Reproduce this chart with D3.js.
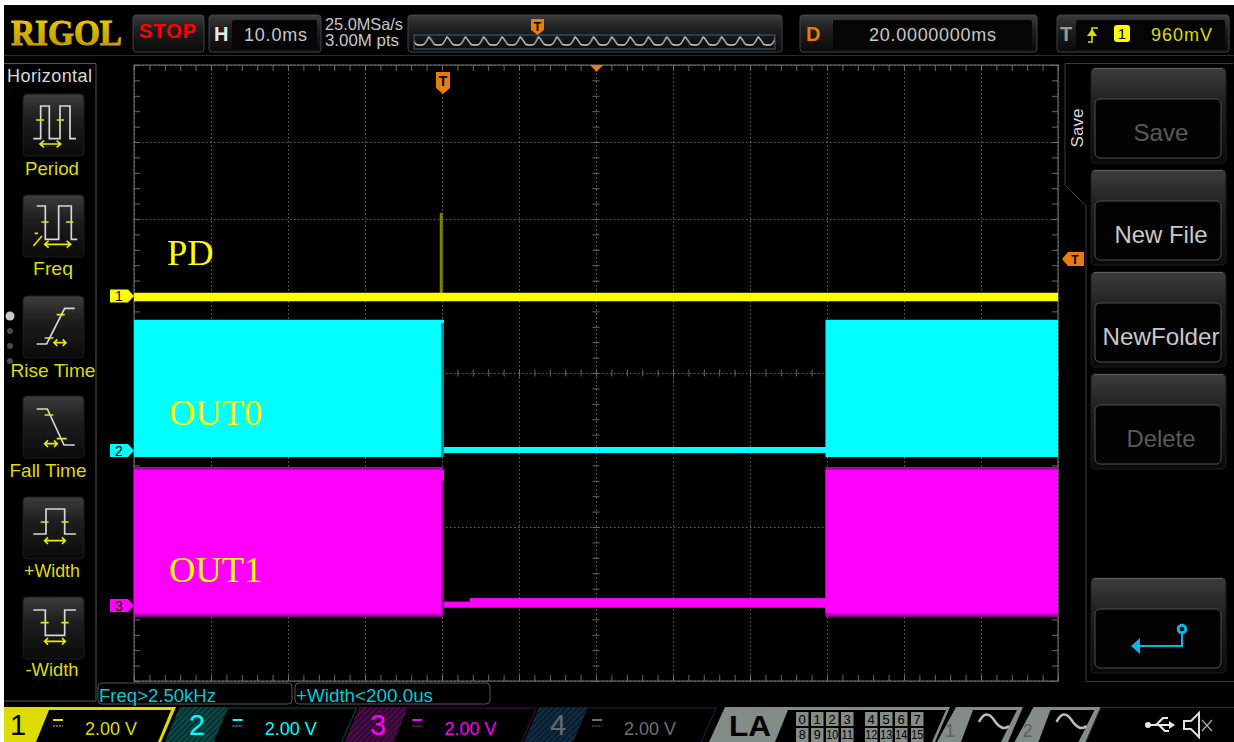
<!DOCTYPE html>
<html>
<head>
<meta charset="utf-8">
<script src="https://cdn.jsdelivr.net/npm/d3@7"></script>
<style>
  html, body { margin: 0; padding: 0; background: #fff; }
  svg { display: block; }
  text { font-family: "Liberation Sans", Arial, sans-serif; }
</style>
</head>
<body>
<div id="scope"></div>
<script>
// trace values. time in ms from the trigger, volts per channel
const gridTimes = [-40, -30, -20, -10, 0, 10, 20, 30, 40, 50, 60, 70, 80];
const gridDivs = [0, 1, 2, 3, 4, 5, 6, 7, 8];

const ch1Time = [-40, 80];
const ch1Volts = [-0.026, -0.026];
const ch1PulseTime = [-0.1, -0.1];
const ch1PulseVolts = [0, 2.16];

const ch2Time = [-40, 0.15, 0.15, 49.8, 49.8, 80];
const ch2High = [3.38, 3.38, 0.08, 0.08, 3.38, 3.38];
const ch2Low = [-0.18, -0.18, -0.08, -0.08, -0.18, -0.18];

const ch3Time = [-40, 0.15, 0.15, 3.6, 3.6, 49.8, 49.8, 80];
const ch3High = [3.48, 3.48, 0.06, 0.06, 0.15, 0.15, 3.48, 3.48];
const ch3Low = [-0.24, -0.24, -0.09, -0.09, -0.09, -0.09, -0.24, -0.24];
const ch3PeakHigh = [3.56, 3.56, 0.06, 0.06, 0.15, 0.15, 3.56, 3.56];
const ch3PeakLow = [-0.33, -0.33, -0.09, -0.09, -0.09, -0.09, -0.33, -0.33];

const menuLabels = ["Period", "Freq", "Rise Time", "Fall Time", "+Width", "-Width"];
const softKeys = ["Save", "New File", "NewFolder", "Delete"];
const scaleLabels = ["2.00 V", "2.00 V", "2.00 V", "2.00 V"];
const laTop = ["0", "1", "2", "3", "4", "5", "6", "7"];
const laBottom = ["8", "9", "10", "11", "12", "13", "14", "15"];

const YEL = "#dcdc00", CYAN = "#00ffff", MAG = "#ff00ff", ORANGE = "#e87c10";

const svg = d3.select("#scope").append("svg").attr("width", 1234).attr("height", 742);
svg.append("rect").attr("x", 4).attr("y", 5).attr("width", 1230).attr("height", 737).attr("fill", "#000");

const defs = svg.append("defs");
const keyGrad = defs.append("linearGradient").attr("id", "key").attr("x2", 0).attr("y2", 1);
keyGrad.append("stop").attr("offset", 0).attr("stop-color", "#3c3c3c");
keyGrad.append("stop").attr("offset", 0.4).attr("stop-color", "#1e1e1e");
keyGrad.append("stop").attr("offset", 1).attr("stop-color", "#0a0a0a");
const logoGrad = defs.append("linearGradient").attr("id", "logo").attr("x2", 0).attr("y2", 1);
logoGrad.append("stop").attr("offset", 0).attr("stop-color", "#f4d000");
logoGrad.append("stop").attr("offset", 1).attr("stop-color", "#b89000");
const wavePat = defs.append("pattern").attr("id", "wave").attr("patternUnits", "userSpaceOnUse")
  .attr("x", 419).attr("y", 35).attr("width", 18.3).attr("height", 14);
wavePat.append("path").attr("d", "M0,10 L3,10 Q6,10 9,3 Q9.2,2 10,2 Q12,4 15,9 Q16,10 18.3,10").attr("fill", "none")
  .attr("stroke", "#d0d0d0").attr("stroke-width", 1.3);
const hatch = (id, c) => {
  const p = defs.append("pattern").attr("id", id).attr("patternUnits", "userSpaceOnUse")
    .attr("width", 4).attr("height", 4).attr("patternTransform", "rotate(45)");
  p.append("rect").attr("width", 4).attr("height", 4).attr("fill", c);
  p.append("rect").attr("width", 1.5).attr("height", 4).attr("fill", "#000").attr("opacity", 0.45);
};
hatch("h2", "#0c4a4a"); hatch("h3", "#4a0c4a"); hatch("h4", "#102c44");

function label(x, y, str, size, color, anchor) {
  return svg.append("text").attr("x", x).attr("y", y).attr("font-size", size)
    .attr("fill", color).attr("text-anchor", anchor || "start").text(str);
}
function box(x, y, w, h, r, fill, stroke) {
  return svg.append("rect").attr("x", x).attr("y", y).attr("width", w).attr("height", h).attr("rx", r)
    .attr("fill", fill).attr("stroke", stroke || "none");
}
function poly(pts, fill, stroke) {
  return svg.append("polygon").attr("points", pts).attr("fill", fill).attr("stroke", stroke || "none");
}
function lineShape(d, stroke, w) {
  return svg.append("path").attr("d", d).attr("fill", "none").attr("stroke", stroke).attr("stroke-width", w || 1);
}

// scales
const x = d3.scaleLinear().domain([-40, 80]).range([134, 1058]);
const div = d3.scaleLinear().domain([0, 8]).range([65, 681]);
const chY = zero => d3.scaleLinear().domain([0, 2]).range([zero, zero - 77]);
const y1 = chY(296), y2 = chY(450), y3 = chY(604);

// graticule
const plot = svg.append("g");
const noText = () => "";
function styleAxis(g, dash) {
  g.select(".domain").remove();
  g.selectAll("line").attr("stroke", "#6a6a6a").attr("stroke-dasharray", dash || null);
  g.selectAll("text").remove();
}
plot.append("g").attr("transform", "translate(0,65)")
  .call(d3.axisBottom(x).tickValues(gridTimes).tickSize(616).tickFormat(noText))
  .call(styleAxis, "1.5,2.5");
plot.append("g").attr("transform", "translate(134,0)")
  .call(d3.axisRight(div).tickValues(gridDivs).tickSize(924).tickFormat(noText))
  .call(styleAxis, "1.5,2.5");

const minorT = d3.range(-40, 80.01, 2), minorD = d3.range(0, 8.01, 0.2);
plot.append("g").attr("transform", "translate(0,65)")
  .call(d3.axisBottom(x).tickValues(minorT).tickSize(6).tickFormat(noText)).call(styleAxis);
plot.append("g").attr("transform", "translate(0,681)")
  .call(d3.axisTop(x).tickValues(minorT).tickSize(6).tickFormat(noText)).call(styleAxis);
plot.append("g").attr("transform", "translate(134,0)")
  .call(d3.axisRight(div).tickValues(minorD).tickSize(6).tickFormat(noText)).call(styleAxis);
plot.append("g").attr("transform", "translate(1058,0)")
  .call(d3.axisLeft(div).tickValues(minorD).tickSize(6).tickFormat(noText)).call(styleAxis);
plot.append("g").attr("transform", "translate(592.5,0)")
  .call(d3.axisRight(div).tickValues(minorD).tickSize(7).tickFormat(noText)).call(styleAxis);
plot.append("g").attr("transform", "translate(0,369.5)")
  .call(d3.axisBottom(x).tickValues(minorT).tickSize(7).tickFormat(noText)).call(styleAxis);
plot.append("rect").attr("x", 134).attr("y", 65).attr("width", 924).attr("height", 616)
  .attr("fill", "none").attr("stroke", "#777");

// traces
function band(times, high, low, yScale, color) {
  const rows = times.map((t, i) => ({ t: t, hi: high[i], lo: low[i] }));
  const area = d3.area().x(d => x(d.t)).y0(d => yScale(d.lo)).y1(d => yScale(d.hi));
  svg.append("path").datum(rows).attr("d", area).attr("fill", color);
}
const traceLine = d3.line().x(d => x(d[0])).y(d => d[1]);

svg.append("path").attr("d", traceLine(ch1PulseTime.map((t, i) => [t, y1(ch1PulseVolts[i])])))
  .attr("stroke", "#808000").attr("stroke-width", 3).attr("fill", "none");
svg.append("path").attr("d", traceLine(ch1Time.map((t, i) => [t, y1(ch1Volts[i])])))
  .attr("stroke", "#ffff00").attr("stroke-width", 8.5).attr("fill", "none");

band(ch3Time, ch3PeakHigh, ch3PeakLow, y3, "#b000b0");
band(ch3Time, ch3High, ch3Low, y3, MAG);
band(ch2Time, ch2High, ch2Low, y2, CYAN);

// falling edges leave a dim stripe next to the bands
band([-0.13, 0.26], [3.3, 3.3], [-0.18, -0.18], y2, "#008c8c");
band([-0.13, 0.26], [3.38, 3.38], [3.3, 3.3], y2, CYAN);
band([-0.13, 0.26], [3.2, 3.2], [-0.24, -0.24], y3, "#900090");
band([-0.13, 0.26], [3.48, 3.48], [3.2, 3.2], y3, MAG);

// overlay names
svg.append("g").style("font-family", "'Liberation Serif', 'Times New Roman', serif")
  .selectAll("text").data([["PD", 167, 265], ["OUT0", 169, 425], ["OUT1", 169, 582]]).join("text")
  .attr("x", d => d[1]).attr("y", d => d[2]).attr("font-size", 36.5).attr("fill", "#ffff00")
  .style("font-family", "inherit").text(d => d[0]);

// channel and trigger markers
[[1, 296, "#ffff00"], [2, 450.5, CYAN], [3, 605.5, MAG]].forEach(m => {
  const top = m[1] - 6.5, bot = m[1] + 6.5;
  poly(`110,${top} 128,${top} 134,${m[1]} 128,${bot} 110,${bot}`, m[2]);
  label(119, m[1] + 5, m[0], 14, "#000", "middle");
});
poly("1062,259 1068,252 1084,252 1084,266 1068,266", ORANGE);
label(1075, 263.5, "T", 12, "#000", "middle").attr("font-weight", "bold");
poly("436,72 450,72 450,88 443,94 436,88", ORANGE);
label(443, 86, "T", 14, "#000", "middle").attr("font-weight", "bold");
poly("590,65 603,65 596.5,72", ORANGE);

// top bar
label(11, 45, "RIGOL", 36, "url(#logo)").attr("font-weight", "bold")
  .attr("stroke", "url(#logo)").attr("stroke-width", 1)
  .style("font-family", "'Liberation Serif', serif").attr("textLength", 111).attr("lengthAdjust", "spacingAndGlyphs");
box(133, 15, 71, 37, 3, "url(#key)", "#444");
label(139, 38, "STOP", 20, "#ff0000").attr("font-weight", "bold").attr("textLength", 57);
box(209, 15, 112, 37, 3, "url(#key)", "#444");
box(232, 20, 85, 29, 2, "#050505");
label(214, 41, "H", 20, "#e8e8e8").attr("font-weight", "bold");
label(244, 41, "10.0ms", 18, "#c8c8c8").attr("textLength", 63);
label(325, 30, "25.0MSa/s", 16.5, "#c8c8c8").attr("textLength", 78).attr("lengthAdjust", "spacingAndGlyphs");
label(325, 46, "3.00M pts", 16.5, "#c8c8c8").attr("textLength", 74).attr("lengthAdjust", "spacingAndGlyphs");
box(408, 15, 374, 37, 3, "url(#key)", "#444");
box(414, 35, 361, 14, 0, "url(#wave)", "#40607a");
poly("531,19 544,19 544,30 537.5,35 531,30", ORANGE);
label(537.5, 31, "T", 12, "#000", "middle").attr("font-weight", "bold");
box(800, 15, 237, 37, 3, "url(#key)", "#444");
box(833, 20, 199, 29, 2, "#050505");
label(806, 41, "D", 20, ORANGE).attr("font-weight", "bold");
label(869, 41, "20.0000000ms", 18, "#c8c8c8").attr("textLength", 127);
box(1057, 15, 172, 37, 3, "url(#key)", "#444");
box(1076, 20, 149, 29, 2, "#050505");
label(1060, 41, "T", 20, "#9a9a9a").attr("font-weight", "bold");
lineShape("M1088,42 H1092 V28 H1098", YEL, 1.6);
poly("1087,36 1097,36 1092,29", YEL);
box(1114, 25, 16, 17, 3, "#ffff00");
label(1122, 39, "1", 15, "#000", "middle");
label(1151, 41, "960mV", 18, YEL).attr("textLength", 61);
lineShape("M4,55.5 H1234", "#2c2c2c");

// left menu
lineShape("M4,63.5 H96 V701 H4", "#555");
label(7, 82, "Horizontal", 18, "#d8d8d8").attr("textLength", 85);
const keyY = [94, 195, 296, 396, 497, 597];
const labelY = [175, 275, 377, 477, 577, 676];
const labelX = [52, 53, 53, 48, 52, 52];
const labelW = [54, 40, 85, 77, 56, 53];
menuLabels.forEach((name, i) => {
  box(23, keyY[i], 61, 62, 4, "url(#key)", "#1c1c1c");
  label(labelX[i], labelY[i], name, 19, YEL, "middle").attr("textLength", labelW[i]).attr("lengthAdjust", "spacingAndGlyphs");
});
// icon strokes, drawn at zoom scale
const icons = svg.append("g").attr("fill", "none").attr("stroke-width", 5);
const icon = (oy, white, yellow) => {
  const g = icons.append("g").attr("transform", `translate(0,${oy}) scale(0.3333)`);
  g.append("path").attr("d", white).attr("stroke", "#d8d8d8");
  g.append("path").attr("d", yellow).attr("stroke", "#e8e800");
};
icon(60, "M100,236 H122 V138 H148 V236 H180 V138 H210 V236 H228",
  "M108,180 H132 M170,180 H192 M122,252 H180 M132,242 L120,252 L132,262 M170,242 L182,252 L170,262");
icon(60, "M110,438 H136 V538 H176 V438 H214 V538 H232",
  "M124,486 H146 M198,486 H220 M136,553 H210 M146,543 L134,553 L146,563 M200,543 L212,553 L200,563 M100,558 L126,528 M104,520 H114");
icon(60, "M110,852 H140 L194,745 H224",
  "M170,764 H194 M134,834 H160 M162,848 H198 M172,838 L162,848 L172,858 M188,838 L198,848 L188,858");
icon(380, "M110,87 H142 L192,195 H224",
  "M134,105 H160 M170,176 H200 M134,191 H172 M144,181 L134,191 L144,201 M162,181 L172,191 L162,201");
icon(380, "M100,462 H138 V387 H194 V462 H228",
  "M122,426 H146 M184,426 H206 M134,482 H196 M144,472 L134,482 L144,492 M186,472 L196,482 L186,492");
icon(380, "M100,690 H136 V766 H194 V690 H228",
  "M122,728 H146 M184,728 H206 M134,784 H196 M144,774 L134,784 L144,794 M186,774 L196,784 L186,794");
[[10, 316, 4.5, "#c8c8c8"], [10, 331, 3, "#4a4a4a"], [10, 346, 3, "#4a4a4a"], [10, 361, 3, "#4a4a4a"]].forEach(d => {
  svg.append("circle").attr("cx", d[0]).attr("cy", d[1]).attr("r", d[2]).attr("fill", d[3]);
});

// right soft keys
lineShape("M1233,63.5 H1065 V185 L1086,206 V681.5 H1234", "#3a3a3a");
label(0, 0, "Save", 17, "#d8d8d8", "middle").attr("transform", "translate(1083,128) rotate(-90)");
const softY = [68, 170, 272, 374, 578];
const softColor = ["#5a5a5a", "#c8c8c8", "#c8c8c8", "#5a5a5a"];
const softW = [55, 93, 117, 69];
softY.forEach((top, i) => {
  box(1091, top, 135, 95, 4, "url(#key)", "#1c1c1c");
  lineShape(`M1094,${top + 0.5} H1223`, "#5c5c5c");
  box(1095, top + 31, 126, 59, 5, "#030303", "#505050");
  if (i < 4) label(1161, top + 73, softKeys[i], 24, softColor[i], "middle").attr("textLength", softW[i]).attr("lengthAdjust", "spacingAndGlyphs");
});
lineShape("M1138,646 H1182 V632", "#00b8e0", 2);
poly("1131,646 1140,638 1140,654", "#00b8e0");
svg.append("circle").attr("cx", 1182).attr("cy", 629).attr("r", 3.8).attr("fill", "none").attr("stroke", "#00b8e0").attr("stroke-width", 3);

// measurement readouts
box(98, 683, 194, 21, 4, "#000", "#555");
box(295, 683, 195, 21, 4, "#000", "#555");
label(99, 702, "Freq>2.50kHz", 18, "#00c8d0").attr("textLength", 117).attr("lengthAdjust", "spacingAndGlyphs");
label(296, 702, "+Width<200.0us", 18, "#00c8d0").attr("textLength", 137).attr("lengthAdjust", "spacingAndGlyphs");

// channel tabs
poly("4,707 176,707 161,742 4,742", YEL);
poly("49,710 171,710 158,742 36,742", "#000");
label(18, 735, "1", 29, "#000", "middle");
const tabColor = [YEL, CYAN, MAG, "#6a6a6a"];
const tabNameX = [18, 197, 378, 558];
const tabHatch = [null, "url(#h2)", "url(#h3)", "url(#h4)"];
const tabEdge = [null, "#0c4a4a", "#4a0c4a", "#102c44"];
[0, 1, 2, 3].forEach(i => {
  const o = 179.7 * i;
  if (i > 0) {
    poly(`${o + 0},707 ${o + 49},707 ${o + 34},742 ${o - 15},742`, tabHatch[i]);
    lineShape(`M${o + 49},708 H${o + 177} L${o + 162},742`, tabEdge[i]);
    label(tabNameX[i], 735, i + 1, 29, tabColor[i], "middle");
  }
  const c = i === 3 ? "#707070" : tabColor[i];
  lineShape(`M${o + 53},720 H${o + 63}`, c, 2);
  lineShape(`M${o + 53},726 H${o + 63}`, c, 1).attr("stroke-dasharray", "2,1");
  label(o + 85, 735, scaleLabels[i], 18, c).attr("textLength", 52).attr("lengthAdjust", "spacingAndGlyphs");
});

// LA and math tabs
poly("725,707 950,707 935,742 709,742", "#848c88");
poly("788,710 946,710 932,742 775,742", "#000");
label(729, 735.5, "LA", 29, "#000").attr("font-weight", "bold").attr("textLength", 42).attr("lengthAdjust", "spacingAndGlyphs");
const laX = [796, 811, 826, 841, 865, 880, 895, 911];
laTop.forEach((d, i) => {
  box(laX[i], 712, 12.5, 14, 0, "#848c88");
  box(laX[i], 728, 12.5, 14, 0, "#848c88");
  label(laX[i] + 6.2, 724, d, 13, "#000", "middle");
  label(laX[i] + 6.2, 739, laBottom[i], 13, "#000", "middle").attr("textLength", laBottom[i].length > 1 ? 12 : 7).attr("lengthAdjust", "spacingAndGlyphs");
});
[0, 77.5].forEach((o, i) => {
  poly(`${956 + o},707 ${1023 + o},707 ${1008 + o},742 ${937 + o},742`, "#848c88");
  poly(`${973 + o},710 ${1017 + o},710 ${1001 + o},742 ${961 + o},742`, "#000");
  lineShape(`M${979 + o},722 Q${986 + o},708 ${994 + o},720 T${1009 + o},726`, "#b8c0bc", 2.5);
  label(950 + o, 737, i + 1, 18, "#5a625e", "middle");
});
lineShape("M1101,707.5 H1234 M1101,707.5 L1086,742", "#2c2c2c");

// status icons
lineShape("M1146,725 H1174 M1156,725 L1163,718 H1168 M1159,725 L1165,731 H1169", "#e8e8e8", 2.2);
svg.append("circle").attr("cx", 1148).attr("cy", 725).attr("r", 3).attr("fill", "#e8e8e8");
poly("1175,725 1169,721 1169,729", "#e8e8e8");
poly("1184,721 1191,721 1199,713 1199,737 1191,729 1184,729", "#000", "#e0e0e0").attr("stroke-width", 2);
lineShape("M1202,720 L1212,731 M1212,720 L1202,731", "#b0b0b0", 1.2);
</script>
</body>
</html>
